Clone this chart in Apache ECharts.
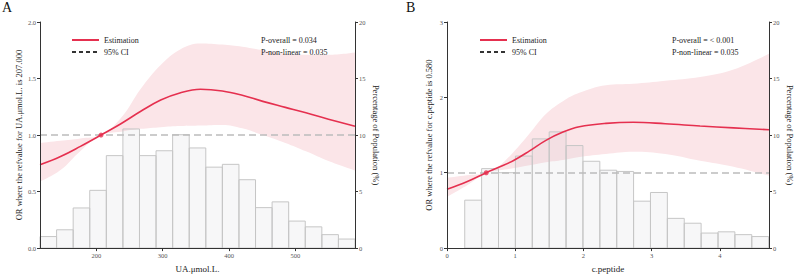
<!DOCTYPE html>
<html>
<head>
<meta charset="utf-8">
<script src="https://cdn.jsdelivr.net/npm/echarts@6/dist/echarts.min.js"></script>
<style>
  html, body { margin: 0; padding: 0; background: #fff; }
  #chart { width: 796px; height: 278px; }
</style>
</head>
<body>
<div id="chart"></div>
<script>
// Panel A: UA.μmol.L.
const uaX = [115, 146, 176, 207, 237, 267, 297, 327, 357, 390, 420, 451, 485, 516, 550, 590]
const uaEst = [0.737, 0.81, 0.90, 1.0, 1.10, 1.21, 1.31, 1.375, 1.405, 1.39, 1.352, 1.298, 1.245, 1.197, 1.14, 1.077]
const uaUpper = [0.93, 0.95, 0.97, 1.0, 1.15, 1.41, 1.62, 1.76, 1.81, 1.80, 1.78, 1.75, 1.72, 1.71, 1.71, 1.73]
const uaLower = [0.587, 0.69, 0.86, 1.0, 1.03, 1.055, 1.07, 1.08, 1.085, 1.09, 1.06, 1.0, 0.93, 0.856, 0.77, 0.686]
const uaRef = 207
const uaBinStart = 115
const uaBinWidth = 25
const uaPct = [1.02, 1.62, 3.55, 5.11, 8.18, 10.54, 8.18, 8.61, 10.03, 8.86, 7.16, 7.41, 6.05, 3.58, 4.09, 2.39, 1.88, 1.19, 0.80]
const uaTicks = [200, 300, 400, 500]

// Panel B: c.peptide
const cpX = [0, 0.29, 0.575, 0.75, 0.97, 1.21, 1.45, 1.70, 1.94, 2.33, 2.73, 3.2, 3.71, 4.2, 4.72]
const cpEst = [0.78, 0.88, 1.0, 1.07, 1.16, 1.29, 1.43, 1.54, 1.61, 1.655, 1.67, 1.65, 1.62, 1.595, 1.57]
const cpUpper = [0.93, 0.965, 1.0, 1.08, 1.27, 1.52, 1.78, 1.95, 2.06, 2.16, 2.18, 2.22, 2.27, 2.37, 2.58]
const cpLower = [0.68, 0.83, 1.0, 1.03, 1.06, 1.10, 1.14, 1.17, 1.21, 1.25, 1.28, 1.25, 1.16, 1.08, 0.96]
const cpRef = 0.575
const cpBinStart = 0.26
const cpBinWidth = 0.2475
const cpPct = [4.24, 7.03, 6.67, 8.14, 9.66, 10.28, 9.07, 7.68, 6.89, 6.78, 4.15, 4.92, 2.63, 2.20, 1.33, 1.44, 1.19, 1.02]

const FONT = 'Liberation Serif'
const RED = '#e5304f'
const AXIS = '#333'
const SMOOTH = 0.4

const chart = echarts.init(document.getElementById('chart'), null, { renderer: 'svg' })

const pairs = (xs, ys) => xs.map((x, i) => [x, ys[i]])
const bins = (start, w, pct) => pct.map((p, i) => [start + i * w, start + (i + 1) * w, p])

const histSeries = (data, xi, yi) => ({
  type: 'custom',
  xAxisIndex: xi,
  yAxisIndex: yi,
  silent: true,
  z: 3,
  encode: { x: [0, 1], y: 2 },
  data: data,
  renderItem: (params, api) => {
    const p0 = api.coord([api.value(0), api.value(2)])
    const p1 = api.coord([api.value(1), 0])
    return {
      type: 'rect',
      shape: { x: p0[0], y: p0[1], width: p1[0] - p0[0], height: p1[1] - p0[1] },
      style: { fill: 'rgba(170, 165, 175, 0.09)', stroke: '#c6c6c6', lineWidth: 1 }
    }
  }
})

// CI band: pink area under the upper bound, masked in white under the lower bound
const bandSeries = (xs, lower, upper, xi, yi) => [
  {
    type: 'line', xAxisIndex: xi, yAxisIndex: yi,
    data: pairs(xs, upper), smooth: SMOOTH, symbol: 'none', silent: true,
    lineStyle: { width: 0, opacity: 0 }, areaStyle: { color: '#fbe5e8', opacity: 1, origin: 'start' }, z: 1
  },
  {
    type: 'line', xAxisIndex: xi, yAxisIndex: yi,
    data: pairs(xs, lower), smooth: SMOOTH, symbol: 'none', silent: true,
    lineStyle: { width: 0, opacity: 0 }, areaStyle: { color: '#ffffff', opacity: 1, origin: 'start' }, z: 2
  }
]

const estSeries = (xs, est, xi, yi) => ({
  name: 'Estimation',
  type: 'line', xAxisIndex: xi, yAxisIndex: yi,
  data: pairs(xs, est), smooth: SMOOTH, symbol: 'none',
  lineStyle: { color: RED, width: 1.6 }, itemStyle: { color: RED },
  z: 5,
  markLine: {
    silent: true, symbol: ['none', 'none'], label: { show: false },
    lineStyle: { color: '#bcbcbc', type: [7, 4], width: 1.5 },
    data: [{ yAxis: 1 }]
  }
})

const ciSeries = (xi, yi) => ({
  name: '95% CI',
  type: 'line', xAxisIndex: xi, yAxisIndex: yi,
  data: [], symbol: 'none',
  lineStyle: { color: '#333', type: [4, 3], width: 1 }, itemStyle: { color: '#333' }
})

const refSeries = (x, xi, yi) => ({
  type: 'scatter', xAxisIndex: xi, yAxisIndex: yi,
  data: [[x, 1]], symbolSize: 5, itemStyle: { color: RED }, z: 6, silent: true
})

const tickLabel = { color: '#555', fontFamily: FONT, fontSize: 6.5, margin: 4 }
const axisLine = { show: true, lineStyle: { color: AXIS, width: 1 } }
const axisTick = { show: true, length: 3, lineStyle: { color: AXIS } }
const nameStyle = { fontFamily: FONT, fontSize: 8.5, color: '#222' }

const leftAxis = (gi, max, interval, name, fmt) => ({
  type: 'value', gridIndex: gi, position: 'left', min: 0, max: max, interval: interval, z: 10,
  axisLine: axisLine, axisTick: axisTick, splitLine: { show: false },
  axisLabel: Object.assign({}, tickLabel, { formatter: fmt }),
  name: name, nameLocation: 'middle', nameGap: 14, nameTextStyle: nameStyle
})

const rightAxis = (gi) => ({
  type: 'value', gridIndex: gi, position: 'right', min: 0, max: 20, interval: 5, z: 10,
  axisLine: axisLine, axisTick: axisTick, splitLine: { show: false },
  axisLabel: tickLabel,
  name: 'Percentage of Population (%)', nameLocation: 'middle', nameGap: 16, nameRotate: -90,
  nameTextStyle: nameStyle
})

const legendBase = {
  orient: 'vertical', padding: 0, itemWidth: 27, itemHeight: 8, itemGap: 4, top: 36,
  data: ['Estimation', '95% CI'], selectedMode: false,
  itemStyle: { opacity: 0 },
  textStyle: { fontFamily: FONT, fontSize: 8, color: '#222' }
}

const option = {
  animation: false,
  textStyle: { fontFamily: FONT },
  title: [
    { text: 'A', left: 2, top: 0, padding: 0, textStyle: { fontFamily: FONT, fontSize: 14, fontWeight: 'normal', color: '#111' } },
    { text: 'B', left: 406, top: 0, padding: 0, textStyle: { fontFamily: FONT, fontSize: 14, fontWeight: 'normal', color: '#111' } },
    { text: 'P-overall = 0.034\nP-non-linear = 0.035', left: 261, top: 34, padding: 0,
      textStyle: { fontFamily: FONT, fontSize: 8, fontWeight: 'normal', color: '#222', lineHeight: 12 } },
    { text: 'P-overall = < 0.001\nP-non-linear = 0.035', left: 672, top: 34, padding: 0,
      textStyle: { fontFamily: FONT, fontSize: 8, fontWeight: 'normal', color: '#222', lineHeight: 12 } }
  ],
  legend: [
    Object.assign({}, legendBase, { left: 71 }),
    Object.assign({}, legendBase, { left: 479 })
  ],
  grid: [
    { left: 40, right: 441, top: 22, bottom: 21 },
    { left: 447, right: 27, top: 22, bottom: 20 }
  ],
  xAxis: [
    {
      type: 'value', gridIndex: 0, min: 115, max: 590, z: 10,
      axisLine: axisLine, splitLine: { show: false },
      axisTick: Object.assign({}, axisTick, { customValues: uaTicks }),
      axisLabel: Object.assign({}, tickLabel, { customValues: uaTicks }),
      name: 'UA.μmol.L.', nameLocation: 'middle', nameGap: 13, nameTextStyle: Object.assign({}, nameStyle, { fontSize: 9 })
    },
    {
      type: 'value', gridIndex: 1, min: 0, max: 4.72, interval: 1, z: 10,
      axisLine: axisLine, axisTick: axisTick, splitLine: { show: false },
      axisLabel: Object.assign({}, tickLabel, { showMaxLabel: false }),
      name: 'c.peptide', nameLocation: 'middle', nameGap: 13, nameTextStyle: Object.assign({}, nameStyle, { fontSize: 9 })
    }
  ],
  yAxis: [
    leftAxis(0, 2, 0.5, 'OR where the refvalue for UA.μmol.L. is 207.000', v => v.toFixed(1)),
    rightAxis(0),
    leftAxis(1, 3, 1, 'OR where the refvalue for c.peptide is 0.580', v => String(v)),
    rightAxis(1)
  ],
  series: [
    ...bandSeries(uaX, uaLower, uaUpper, 0, 0),
    histSeries(bins(uaBinStart, uaBinWidth, uaPct), 0, 1),
    estSeries(uaX, uaEst, 0, 0),
    ciSeries(0, 0),
    refSeries(uaRef, 0, 0),

    ...bandSeries(cpX, cpLower, cpUpper, 1, 2),
    histSeries(bins(cpBinStart, cpBinWidth, cpPct), 1, 3),
    estSeries(cpX, cpEst, 1, 2),
    ciSeries(1, 2),
    refSeries(cpRef, 1, 2)
  ]
}

chart.setOption(option)
</script>
</body>
</html>
